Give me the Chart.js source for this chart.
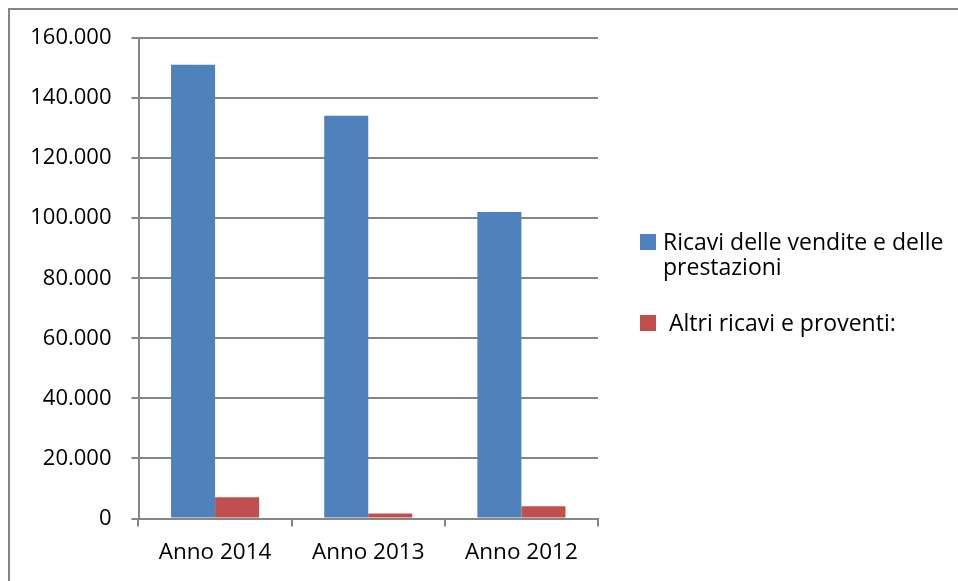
<!DOCTYPE html>
<html>
<head>
<meta charset="utf-8">
<script src="https://cdn.jsdelivr.net/npm/chart.js@4.4.0/dist/chart.umd.min.js"></script>
<style>
  html, body { margin: 0; padding: 0; background: #ffffff; }
  #wrap { width: 958px; height: 581px; position: relative; }
</style>
</head>
<body>
<div id="wrap"><canvas id="c" width="958" height="581"></canvas></div>
<script>
const categories = ['Anno 2014', 'Anno 2013', 'Anno 2012'];
const seriesLabels = ['Ricavi delle vendite e delle prestazioni', ' Altri ricavi e proventi:'];
const ricaviVendite = [151100, 134100, 102100];
const altriRicavi = [7100, 1700, 4100];
const yTicks = [0, 20000, 40000, 60000, 80000, 100000, 120000, 140000, 160000];
const seriesColors = ['#4F81BD', '#C0504D'];

const FONT = "'Open Sans', 'Liberation Sans', sans-serif";
const AXIS_COLOR = '#868686';

function fmt(v) {
  return String(v).replace(/\B(?=(\d{3})+(?!\d))/g, '.');
}

const frame = {
  id: 'frame',
  beforeDraw(chart) {
    const ctx = chart.ctx;
    ctx.save();
    ctx.fillStyle = '#ffffff';
    ctx.fillRect(0, 0, chart.width, chart.height);
    ctx.strokeStyle = AXIS_COLOR;
    ctx.lineWidth = 2;
    ctx.strokeRect(9, 9, 2000, 2000);
    ctx.restore();
  }
};

const sideLegend = {
  id: 'sideLegend',
  afterDraw(chart) {
    const ctx = chart.ctx;
    const area = chart.chartArea;
    const x0 = area.right + 42;
    ctx.save();
    ctx.font = '23px ' + FONT;
    ctx.textBaseline = 'alphabetic';
    ctx.fillStyle = '#000';
    const maxW = 300;
    let baseline = 250;
    chart.data.datasets.forEach((ds, i) => {
      const words = ds.label.split(' ');
      const lines = [];
      let cur = null;
      words.forEach(w => {
        if (cur === null) { cur = w; return; }
        const t = cur + ' ' + w;
        if (ctx.measureText(t).width > maxW && cur.trim()) { lines.push(cur); cur = w; }
        else cur = t;
      });
      lines.push(cur);
      ctx.fillStyle = ds.backgroundColor;
      ctx.fillRect(x0, baseline - 16, 16, 16);
      ctx.fillStyle = '#000';
      lines.forEach((ln, k) => {
        ctx.fillText(ln, x0 + 23, baseline + k * 25);
      });
      baseline += lines.length * 25 + 31;
    });
    ctx.restore();
  }
};

new Chart(document.getElementById('c'), {
  type: 'bar',
  data: {
    labels: categories,
    datasets: [
      { label: seriesLabels[0], data: ricaviVendite, backgroundColor: seriesColors[0] },
      { label: seriesLabels[1], data: altriRicavi, backgroundColor: seriesColors[1] }
    ]
  },
  options: {
    responsive: false,
    animation: false,
    devicePixelRatio: 1,
    layout: { padding: { left: 0, top: 38, right: 360, bottom: 0 } },
    datasets: { bar: { categoryPercentage: 0.575, barPercentage: 1.0 } },
    plugins: {
      legend: { display: false },
      tooltip: { enabled: false }
    },
    scales: {
      x: {
        offset: true,
        grid: { display: true, drawOnChartArea: false, offset: true, color: AXIS_COLOR, lineWidth: 2, tickLength: 8 },
        border: { display: true, color: AXIS_COLOR, width: 2 },
        ticks: { color: '#000', font: { family: FONT, size: 22.5 }, padding: 13, maxRotation: 0 },
        afterFit(scale) { scale.height = 581 - 518.5; }
      },
      y: {
        min: 0, max: 160000,
        afterBuildTicks(scale) { scale.ticks = yTicks.map(v => ({ value: v })); },
        grid: { color: AXIS_COLOR, lineWidth: 2, tickLength: 7 },
        border: { display: true, color: AXIS_COLOR, width: 2 },
        ticks: { color: '#000', font: { family: FONT, size: 22 }, padding: 20, callback: v => fmt(v) },
        afterFit(scale) { scale.width = 138.5; }
      }
    }
  },
  plugins: [frame, sideLegend]
});
</script>
</body>
</html>
